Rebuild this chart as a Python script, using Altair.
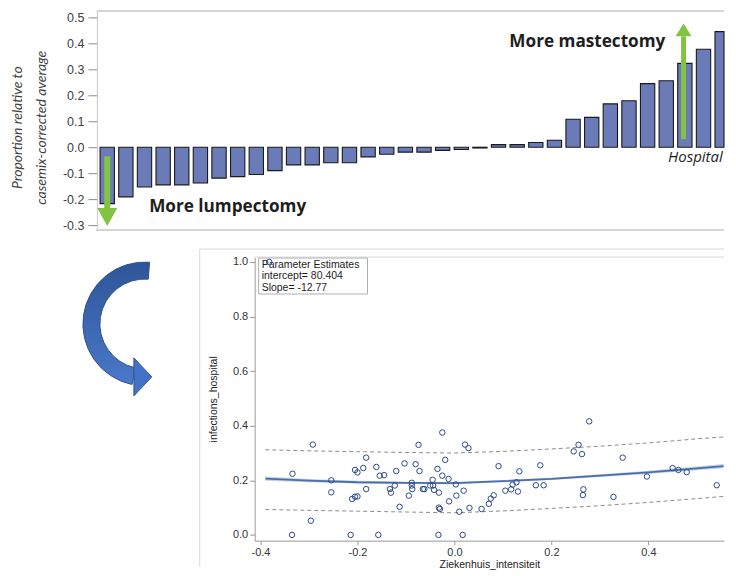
import altair as alt
import pandas as pd

# ---------------- top panel: hospitals ----------------
bar_index = list(range(1, 35))
bar_values = [-0.217, -0.191, -0.153, -0.145, -0.145, -0.138, -0.119, -0.113, -0.105, -0.090,
              -0.068, -0.068, -0.060, -0.060, -0.037, -0.027, -0.019, -0.019, -0.012, -0.009,
              -0.003, 0.010, 0.010, 0.018, 0.027, 0.108, 0.115, 0.167, 0.179, 0.245,
              0.256, 0.323, 0.377, 0.445]
top_ticks = [-0.3, -0.2, -0.1, 0.0, 0.1, 0.2, 0.3, 0.4, 0.5]
top_title = ["Proportion relative to", "casemix-corrected average"]

bold_notes = ["More lumpectomy", "More mastectomy"]
bold_note_x = [3.25, 22.58]
bold_note_y = [-0.25, 0.385]
hosp_label = ["Hospital"]
hosp_x = [31.1]
hosp_y = [-0.058]

down_arrow_x = [1.0]
down_arrow_from = [-0.035]
down_arrow_to = [-0.235]
down_head_y = [-0.269]
up_arrow_x = [31.93]
up_arrow_from = [0.031]
up_arrow_to = [0.427]
up_head_y = [0.452]

# ---------------- bottom panel: scatter ----------------
pt_x = [-0.382, -0.292, -0.334, -0.335, -0.296, -0.254, -0.254, -0.214, -0.211, -0.205,
        -0.200, -0.205, -0.200, -0.188, -0.182, -0.182, -0.161, -0.157, -0.154, -0.145,
        -0.133, -0.131, -0.123, -0.120, -0.113, -0.103, -0.094, -0.088, -0.088, -0.087,
        -0.080, -0.074, -0.072, -0.065, -0.062, -0.050, -0.045, -0.044, -0.042, -0.035,
        -0.032, -0.032, -0.030, -0.033, -0.025, -0.025, -0.019, -0.012, -0.011, 0.003,
        0.004, 0.010, 0.017, 0.019, 0.022, 0.029, 0.031, 0.056, 0.071, 0.075,
        0.081, 0.091, 0.105, 0.117, 0.120, 0.128, 0.131, 0.134, 0.168, 0.177,
        0.184, 0.246, 0.256, 0.263, 0.266, 0.265, 0.278, 0.328, 0.347, 0.397,
        0.450, 0.462, 0.479, 0.541]
pt_y = [1.000, 0.331, 0.224, 0.000, 0.052, 0.200, 0.156, 0.000, 0.132, 0.238,
        0.229, 0.140, 0.141, 0.245, 0.283, 0.168, 0.249, 0.000, 0.217, 0.219,
        0.168, 0.155, 0.181, 0.234, 0.103, 0.262, 0.144, 0.191, 0.181, 0.168,
        0.259, 0.330, 0.234, 0.168, 0.168, 0.181, 0.202, 0.181, 0.165, 0.242,
        0.155, 0.100, 0.095, 0.000, 0.375, 0.217, 0.275, 0.205, 0.123, 0.185,
        0.144, 0.085, 0.000, 0.162, 0.331, 0.318, 0.099, 0.095, 0.114, 0.133,
        0.145, 0.252, 0.162, 0.167, 0.184, 0.193, 0.159, 0.233, 0.182, 0.255,
        0.182, 0.306, 0.330, 0.296, 0.167, 0.146, 0.416, 0.139, 0.283, 0.214,
        0.245, 0.238, 0.230, 0.182]

fit_x = [-0.39, -0.3, -0.2, -0.1, 0.0, 0.1, 0.2, 0.3, 0.4, 0.5, 0.555]
fit_y = [0.206, 0.199, 0.193, 0.191, 0.190, 0.197, 0.205, 0.217, 0.229, 0.244, 0.252]
fit_lo = [0.198, 0.193, 0.188, 0.187, 0.186, 0.193, 0.201, 0.212, 0.223, 0.237, 0.244]
fit_hi = [0.214, 0.205, 0.198, 0.195, 0.194, 0.201, 0.209, 0.222, 0.235, 0.251, 0.260]
pred_hi = [0.312, 0.308, 0.305, 0.302, 0.300, 0.306, 0.315, 0.325, 0.337, 0.352, 0.359]
pred_lo = [0.093, 0.090, 0.087, 0.084, 0.081, 0.088, 0.097, 0.107, 0.119, 0.133, 0.141]

sc_x_ticks = [-0.4, -0.2, 0.0, 0.2, 0.4]
sc_y_ticks = [0.0, 0.2, 0.4, 0.6, 0.8, 1.0]
sc_x_title = "Ziekenhuis_intensiteit"
sc_y_title = "infections_hospital"
param_text = "Parameter Estimates\nintercept= 80.404\nSlope= -12.77"

NOVIEW = alt.ViewBackground(stroke="transparent", strokeWidth=0)

# ================= build top chart =================
TW, TH = 628, 219
bars = pd.DataFrame({"idx": bar_index, "value": bar_values})
xs_top = alt.Scale(domain=[0.444, 34.1], nice=False, zero=False, clamp=True)
ys_top = alt.Scale(domain=[-0.319, 0.523], nice=False, zero=False)
lab_expr = "replace(format(datum.value, '.1f'), '\u2212', '-')"
top_axis = alt.Axis(values=top_ticks, labelExpr=lab_expr, grid=False,
                    labelFont="Liberation Sans", labelFontSize=12.5, labelColor="#404040",
                    labelPadding=4, tickSize=9, tickColor="#8c8c8c", domainColor="#c8c8c8",
                    title=top_title, titleFont="Lato", titleFontStyle="italic",
                    titleFontWeight="normal", titleFontSize=14, titleColor="#404040",
                    titleAngle=270, titleAlign="center", titleBaseline="middle",
                    titleLineHeight=24, titleX=-79, titleY=116)


def YT(field):
    return alt.Y(f"{field}:Q", scale=ys_top, axis=top_axis)


def XT(field):
    return alt.X(f"{field}:Q", scale=xs_top, axis=None)


bar_layer = alt.Chart(bars).transform_calculate(
    left="datum.idx - 0.384", right="datum.idx + 0.384"
).mark_bar(fill="#6a7bb8", stroke="#1a1a1a", strokeWidth=1.1).encode(
    x=XT("left"), x2="right", y=YT("value"), y2=alt.datum(0))

frame_top = alt.Chart(bars).mark_rule(color="#d6d6d6", strokeWidth=1).encode(
    x=alt.value(0), x2=alt.value(TW), y=alt.value(0))
frame_bot = alt.Chart(bars).mark_rule(color="#d6d6d6", strokeWidth=1).encode(
    x=alt.value(0), x2=alt.value(TW), y=alt.value(TH))

green = "#82c341"
down_df = pd.DataFrame({"x": down_arrow_x, "a": down_arrow_from, "b": down_arrow_to, "h": down_head_y})
up_df = pd.DataFrame({"x": up_arrow_x, "a": up_arrow_from, "b": up_arrow_to, "h": up_head_y})
down_shaft = alt.Chart(down_df).mark_rule(color=green, strokeWidth=6).encode(
    x=XT("x"), y=YT("a"), y2="b")
down_head = alt.Chart(down_df).mark_point(shape="M-1,-0.9L1,-0.9L0,0.9Z", size=400,
                                          filled=True, color=green, opacity=1).encode(
    x=XT("x"), y=YT("h"))
up_shaft = alt.Chart(up_df).mark_rule(color=green, strokeWidth=5).encode(
    x=XT("x"), y=YT("a"), y2="b")
up_head = alt.Chart(up_df).mark_point(shape="M-1,0.8L1,0.8L0,-0.8Z", size=256,
                                      filled=True, color=green, opacity=1).encode(
    x=XT("x"), y=YT("h"))

notes_df = pd.DataFrame({"t": bold_notes, "x": bold_note_x, "y": bold_note_y})
notes = alt.Chart(notes_df).mark_text(font="Open Sans", fontWeight="bold", fontSize=17.2,
                                      color="#1e1e1e", align="left", baseline="alphabetic").encode(
    x=XT("x"), y=YT("y"), text="t:N")
hosp_df = pd.DataFrame({"t": hosp_label, "x": hosp_x, "y": hosp_y})
hosp = alt.Chart(hosp_df).mark_text(font="Open Sans", fontStyle="italic", fontSize=15,
                                    color="#1e1e1e", align="left", baseline="alphabetic",
                                    limit=56, ellipsis="\u200b").encode(
    x=XT("x"), y=YT("y"), text="t:N")

top = alt.layer(frame_top, frame_bot, bar_layer, down_shaft, down_head, up_shaft, up_head,
                notes, hosp).properties(width=TW, height=TH, view=NOVIEW)

# ================= curved arrow panel =================
AW, SH = 158, 284
one = pd.DataFrame({"k": [0]})
grad = alt.Gradient(gradient="linear",
                    stops=[alt.GradientStop(color="#2e5597", offset=0),
                           alt.GradientStop(color="#4a78c9", offset=1)],
                    x1=0, x2=0, y1=0, y2=1)
arc = alt.Chart(one).mark_arc(theta=3.35, theta2=6.36, radius=62, radius2=45,
                              fill=grad, stroke="#2f528f", strokeWidth=1).encode(
    x=alt.value(48), y=alt.value(67))
arc_head = alt.Chart(one).mark_point(shape="M-0.47,-1L0.47,0L-0.47,1Z", size=1444,
                                     filled=True, color="#4472c4", stroke="#2f528f",
                                     strokeWidth=1, opacity=1).encode(
    x=alt.value(46), y=alt.value(120))
arrow_panel = alt.layer(arc, arc_head).properties(width=AW, height=SH, view=NOVIEW)

# ================= scatter chart =================
SW = 470
xs_sc = alt.Scale(domain=[-0.412, 0.556], nice=False, zero=False)
ys_sc = alt.Scale(domain=[-0.021, 1.018], nice=False, zero=False)
sc_x_axis = alt.Axis(values=sc_x_ticks, labelExpr=lab_expr, grid=False,
                     labelFont="Liberation Sans", labelFontSize=11, labelColor="#333333",
                     labelPadding=2, tickSize=4, tickColor="#9a9a9a", domainColor="#9a9a9a",
                     title=sc_x_title, titleFont="Liberation Sans", titleFontSize=10.5,
                     titleFontWeight="normal", titleColor="#222222", titleY=24,
                     titleBaseline="middle")
sc_y_axis = alt.Axis(values=sc_y_ticks, labelExpr=lab_expr, grid=False,
                     labelFont="Liberation Sans", labelFontSize=11, labelColor="#333333",
                     labelPadding=2, tickSize=5, tickColor="#9a9a9a", domainColor="#9a9a9a",
                     title=sc_y_title, titleFont="Liberation Sans", titleFontSize=10.5,
                     titleFontWeight="normal", titleColor="#222222", titleAngle=270,
                     titleAlign="center", titleBaseline="middle", titleX=-41, titleY=142)


def XS(field):
    return alt.X(f"{field}:Q", scale=xs_sc, axis=sc_x_axis)


def YS(field):
    return alt.Y(f"{field}:Q", scale=ys_sc, axis=sc_y_axis)


pts = pd.DataFrame({"x": pt_x, "y": pt_y})
fit = pd.DataFrame({"x": fit_x, "y": fit_y, "lo": fit_lo, "hi": fit_hi,
                    "plo": pred_lo, "phi": pred_hi})

outer_v = alt.Chart(one).mark_rule(color="#d9d9d9", strokeWidth=1).encode(
    x=alt.value(-55), y=alt.value(-8), y2=alt.value(310))
outer_h = alt.Chart(one).mark_rule(color="#d9d9d9", strokeWidth=1).encode(
    x=alt.value(-55), x2=alt.value(SW), y=alt.value(-8))
plot_top = alt.Chart(one).mark_rule(color="#d9d9d9", strokeWidth=1).encode(
    x=alt.value(0), x2=alt.value(SW), y=alt.value(0))

band = alt.Chart(fit).mark_area(color="#a9bfe0", opacity=0.7).encode(
    x=XS("x"), y=YS("lo"), y2="hi")
dash_hi = alt.Chart(fit).mark_line(color="#8c8c8c", strokeWidth=1, strokeDash=[4, 3]).encode(
    x=XS("x"), y=YS("phi"))
dash_lo = alt.Chart(fit).mark_line(color="#8c8c8c", strokeWidth=1, strokeDash=[4, 3]).encode(
    x=XS("x"), y=YS("plo"))
fit_line = alt.Chart(fit).mark_line(color="#4a6ea8", strokeWidth=1.8).encode(
    x=XS("x"), y=YS("y"))

legend_box = alt.Chart(one).mark_rect(fill="white", stroke="#b0b0b0", strokeWidth=1).encode(
    x=alt.value(4), x2=alt.value(113), y=alt.value(1), y2=alt.value(37))
legend_txt = alt.Chart(one).mark_text(text=param_text, lineBreak="\n", lineHeight=11.5,
                                      font="Liberation Sans", fontSize=10.5, color="#1e1e1e",
                                      align="left", baseline="top").encode(
    x=alt.value(7), y=alt.value(3))

points = alt.Chart(pts).mark_point(shape="circle", filled=False, size=30, color="#2b4a8b",
                                   strokeWidth=1, opacity=1).encode(
    x=XS("x"), y=YS("y"))

scatter = alt.layer(outer_v, outer_h, plot_top, band, dash_hi, dash_lo, fit_line,
                    legend_box, legend_txt, points).properties(width=SW, height=SH, view=NOVIEW)

bottom = alt.hconcat(arrow_panel, scatter, spacing=0, bounds="flush")

chart = alt.vconcat(top, bottom, spacing=27, bounds="flush").properties(
    padding={"left": 3, "top": 2, "right": 0, "bottom": 0}
).configure_view(strokeWidth=0, stroke="transparent").configure(background="white")

chart.save("out.html", embed_options={"renderer": "svg", "actions": False})
